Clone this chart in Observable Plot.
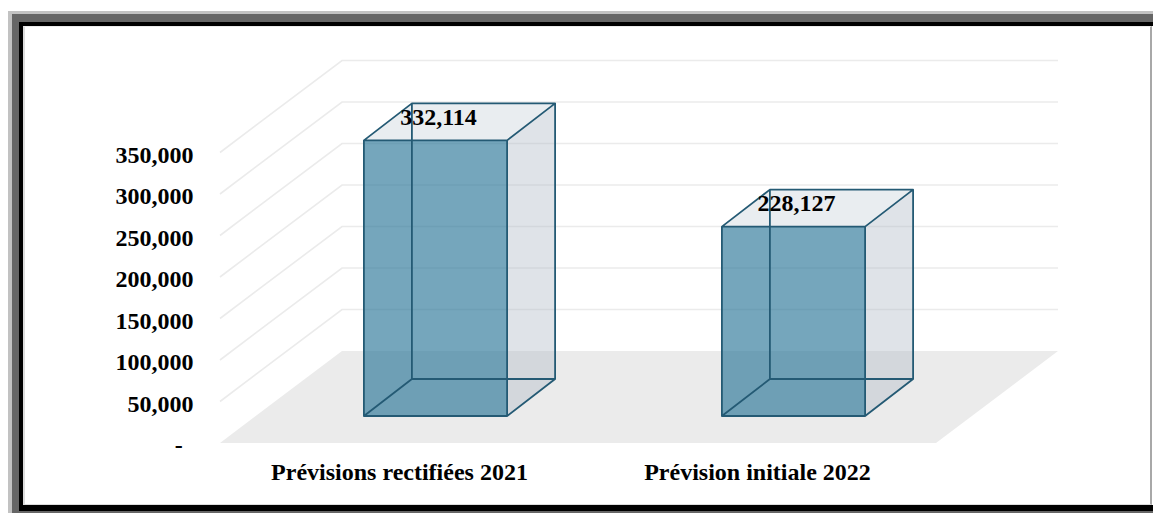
<!DOCTYPE html>
<html>
<head>
<meta charset="utf-8">
<script src="https://cdn.jsdelivr.net/npm/d3@7"></script>
<script src="https://cdn.jsdelivr.net/npm/@observablehq/plot@0.6"></script>
<style>
  html, body { margin: 0; padding: 0; background: #fff; width: 1153px; height: 513px; overflow: hidden; }
  .f { box-sizing: border-box; }
  #fa { position: absolute; left: 8px; top: 11px; width: 1145px; height: 502px; border-left: 4px solid #c2c2c2; border-top: 3px solid #c2c2c2; }
  #fb { width: 100%; height: 100%; border-left: 7px solid #666; border-top: 8px solid #666; border-bottom: 2px solid #666; }
  #fc { width: 100%; height: 100%; border-left: 4px solid #000; border-top: 4px solid #000; border-bottom: 6px solid #000; }
  #fd { width: calc(100% - 1px); height: 100%; border-left: 2px solid #dcdcdc; border-top: 1px solid #ececec; border-bottom: 1px solid #dcdcdc; border-right: 2px solid #a8a8a8; background: #fff; }
  #chart { position: absolute; left: 0; top: 0; }
</style>
</head>
<body>
<div id="fa" class="f"><div id="fb" class="f"><div id="fc" class="f"><div id="fd" class="f"></div></div></div></div>
<div id="chart"></div>
<script>
// ---- data ----
const categories = ["Prévisions rectifiées 2021", "Prévision initiale 2022"];
const values = [332114, 228127];
const yTicks = [0, 50000, 100000, 150000, 200000, 250000, 300000, 350000];

const data = categories.map((c, i) => ({category: c, value: values[i]}));

// ---- 3D styling (pixel offsets of the perspective) ----
const FLOOR_DEPTH = [122, -92];   // back wall offset from the front plane
const BAR_FRONT = [36.5, -27];    // bar front face offset from the front plane
const BAR_DEPTH = [48, -37];      // bar depth
const BAR_FRAC = 0.4;             // bar width as fraction of band
const EDGE = "#245a74";

const fmt = d3.format(",");
const tickFormat = v => v === 0 ? "-\u00a0\u2009" : fmt(v);

function pts(p) { return "M" + p.map(q => q[0].toFixed(1) + "," + q[1].toFixed(1)).join("L") + "Z"; }

// back wall gridlines + floor
function wallRender(index, scales, vals, dims) {
  const g = d3.create("svg:g");
  const xl = dims.marginLeft, xr = dims.width - dims.marginRight;
  const [ddx, ddy] = FLOOR_DEPTH;
  let d = "";
  for (const i of index) {
    const y = vals.y[i];
    if (yTicks[i] === 0) continue;
    d += `M${xl},${y}L${xl + ddx},${y + ddy}L${xr + ddx},${y + ddy}`;
  }
  g.append("path").attr("d", d).attr("fill", "none").attr("stroke", "#ebebeb").attr("stroke-width", 1.6);
  const y0 = scales.y(0);
  g.append("path")
    .attr("d", pts([[xl, y0], [xr, y0], [xr + ddx, y0 + ddy], [xl + ddx, y0 + ddy]]))
    .attr("fill", "#ebebeb");
  return g.node();
}

function barRender(index, scales, vals, dims) {
  const g = d3.create("svg:g");
  const bw = (dims.width - dims.marginLeft - dims.marginRight) / categories.length;
  const w = bw * BAR_FRAC;
  const [fx, fy] = BAR_FRONT;
  const [dx, dy] = BAR_DEPTH;
  for (const i of index) {
    const x0 = vals.x[i] + (bw - w) / 2 + fx;
    const x1 = x0 + w;
    const yb = vals.y1[i] + fy;
    const yt = vals.y2[i] + fy;
    // right side face
    g.append("path").attr("d", pts([[x1, yt], [x1 + dx, yt + dy], [x1 + dx, yb + dy], [x1, yb]]))
      .attr("fill", "#aebac6").attr("fill-opacity", 0.4);
    // top face
    g.append("path").attr("d", pts([[x0, yt], [x1, yt], [x1 + dx, yt + dy], [x0 + dx, yt + dy]]))
      .attr("fill", "#e9edf0");
    // front face
    g.append("path").attr("d", pts([[x0, yt], [x1, yt], [x1, yb], [x0, yb]]))
      .attr("fill", "#2b7698").attr("fill-opacity", 0.65);
    // edges
    const e = [
      `M${x0},${yt}L${x1},${yt}L${x1},${yb}L${x0},${yb}Z`,
      `M${x0},${yt}L${x0 + dx},${yt + dy}L${x1 + dx},${yt + dy}L${x1},${yt}`,
      `M${x1 + dx},${yt + dy}L${x1 + dx},${yb + dy}L${x1},${yb}`,
      `M${x0},${yb}L${x0 + dx},${yb + dy}L${x1 + dx},${yb + dy}`,
      `M${x0 + dx},${yt + dy}L${x0 + dx},${yb + dy}`
    ].join("");
    g.append("path").attr("d", e).attr("fill", "none").attr("stroke", EDGE)
      .attr("stroke-width", 1.8).attr("stroke-linejoin", "round");
  }
  return g.node();
}

const chart = Plot.plot({
  width: 1153,
  height: 513,
  marginLeft: 220,
  marginRight: 217,
  marginTop: 152.5,
  marginBottom: 70,
  style: {fontFamily: "'Liberation Serif', 'Times New Roman', serif", fontWeight: "bold", fontSize: "24px", background: "transparent", overflow: "visible", color: "#000"},
  x: {type: "band", domain: categories, padding: 0, label: null},
  y: {domain: [0, 350000], label: null},
  marks: [
    Plot.ruleY(yTicks, {y: d => d, render: wallRender}),
    Plot.barY(data, {x: "category", y: "value", render: barRender}),
    Plot.text(data, {x: "category", y: "value", text: d => fmt(d.value), dx: 39, dy: -50.5,
      fontSize: 24, fontWeight: "bold", fill: "#000"}),
    Plot.axisY(yTicks, {tickFormat, tickSize: 0, tickPadding: 27, dy: 2, fontSize: 24, fontWeight: "bold", label: null}),
    Plot.axisX({tickSize: 0, tickPadding: 19, fontSize: 24, fontWeight: "bold", label: null})
  ]
});
document.getElementById("chart").appendChild(chart);
</script>
</body>
</html>
